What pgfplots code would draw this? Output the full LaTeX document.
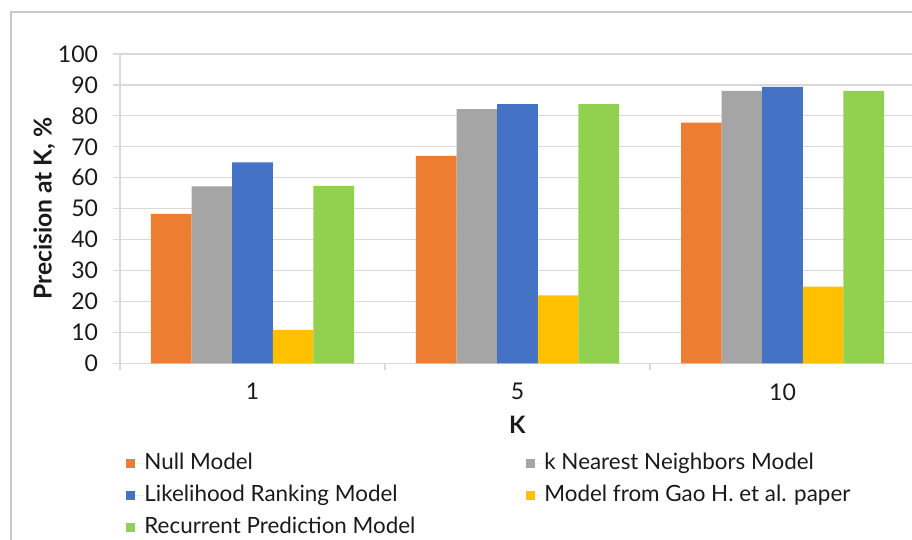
\documentclass[border=0pt]{standalone}
\usepackage{pgfplots}
\pgfplotsset{compat=1.18}
\usepackage{fontspec}
\setmainfont{Lato}
\definecolor{cNull}{HTML}{ED7D31}
\definecolor{cKnn}{HTML}{A5A5A5}
\definecolor{cLik}{HTML}{4472C4}
\definecolor{cGao}{HTML}{FFC000}
\definecolor{cRec}{HTML}{92D050}
\definecolor{cGrid}{HTML}{D9D9D9}
\definecolor{cFrame}{HTML}{C8C8C8}
\definecolor{cText}{HTML}{1A1A1A}
% first-column legend entries get a fixed width so the second column lines up
\newcommand{\firstcol}[1]{\makebox[191pt][l]{#1}}
\begin{document}
\begin{tikzpicture}
\useasboundingbox (0,0) rectangle (456pt,-270pt);
\draw[cFrame, line width=0.6pt] (5.5pt,-6pt) rectangle (480pt,-300pt);
\begin{axis}[
  at={(60pt,-181.65pt)}, anchor=south west,
  scale only axis, width=397.5pt, height=154.65pt,
  ybar=0pt, bar width=20.3pt,
  ymin=0, ymax=100, ytick={0,10,...,100},
  xmin=-0.5, xmax=2.5,
  xtick={-0.5,0.5,1.5,2.5}, xticklabels={},
  extra x ticks={0,1,2}, extra x tick labels={1,5,10},
  extra x tick style={major tick length=0pt},
  tick align=outside, major tick length=3.5pt,
  tick style={cGrid, line width=0.6pt},
  ymajorgrids, grid style={cGrid, line width=0.6pt},
  axis x line*=bottom, axis y line*=left,
  axis line style={-, cGrid, line width=0.6pt},
  /pgf/number format/assume math mode=true,
  tick label style={font=\fontsize{11.5}{13}\selectfont, text=cText},
  yticklabel style={xshift=-4pt},
  xticklabel style={yshift=-6.5pt},
  ylabel={\textbf{Precision at K, \%}},
  ylabel style={font=\fontsize{12.3}{14}\selectfont, text=cText, yshift=-5.5pt},
  xlabel={\textbf{K}},
  xlabel style={font=\fontsize{12}{14}\selectfont, text=cText, yshift=2.5pt},
  legend columns=2,
  legend cell align=left,
  legend style={at={(0.0,-0.276)}, anchor=north west, draw=none, fill=none,
    font=\fontsize{11.2}{13}\selectfont, text=cText,
    row sep=6pt,
    nodes={inner sep=0pt, text height=8pt, text depth=2pt}},
  every axis plot post/.append style={draw=none,
    legend image code/.code={%
      \path (0pt,0pt) -- (9pt,0pt);
      \fill[##1] (0pt,-2.25pt) rectangle (4.5pt,2.25pt);}},
]
\addplot[fill=cNull] coordinates {(0,48.3) (1,67.1) (2,77.8)};
\addplot[fill=cKnn]  coordinates {(0,57.2) (1,82.2) (2,88.1)};
\addplot[fill=cLik]  coordinates {(0,65.0) (1,83.8) (2,89.4)};
\addplot[fill=cGao]  coordinates {(0,10.8) (1,22.0) (2,24.8)};
\addplot[fill=cRec]  coordinates {(0,57.4) (1,83.8) (2,88.1)};
\legend{\firstcol{Null Model}, k Nearest Neighbors Model,
  \firstcol{Likelihood Ranking Model}, Model from Gao H. et al. paper,
  \firstcol{Recurrent Prediction Model}}
\end{axis}
\end{tikzpicture}
\end{document}
